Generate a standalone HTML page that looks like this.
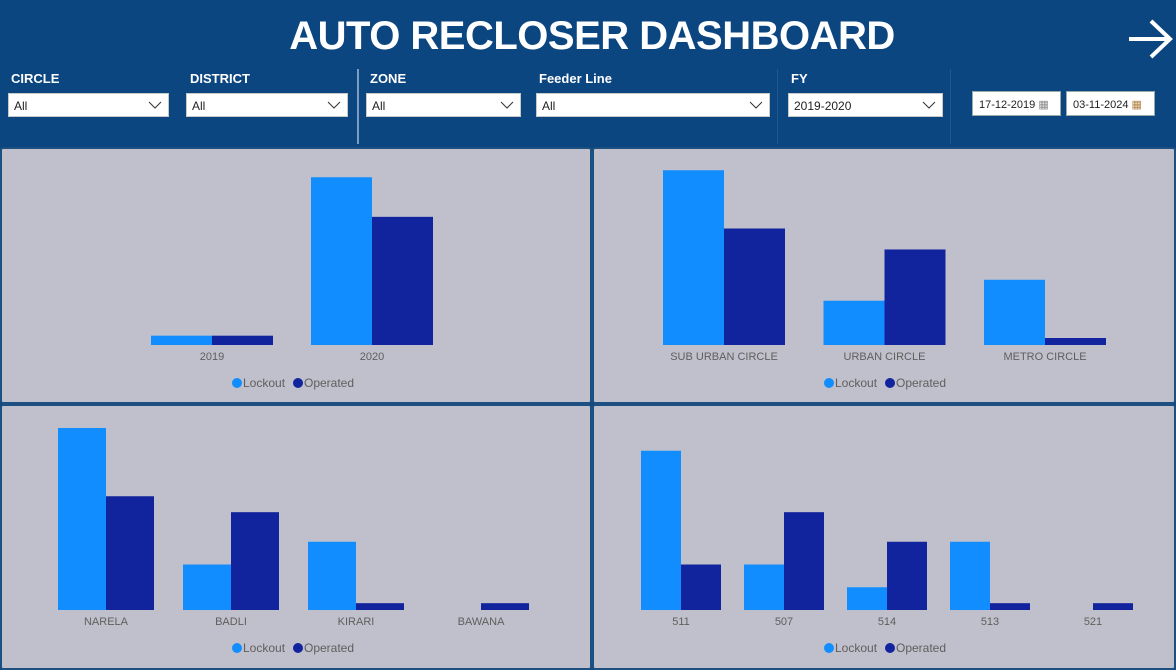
<!DOCTYPE html>
<html><head><meta charset="utf-8"><style>
body{margin:0;width:1176px;height:668px;background:#0b4680;position:relative;overflow:hidden;font-family:"Liberation Sans",sans-serif}
.abs{position:absolute}
.title{left:0;width:1184px;top:12px;text-align:center;color:#fff;font-weight:bold;font-size:40px;line-height:48px;letter-spacing:-0.5px}
.lbl{color:#fff;font-weight:bold;font-size:13px;top:71px}
.dd{background:#fff;border:1px solid #c8c8c8;height:24px;top:93px;box-sizing:border-box;font-size:12px;color:#222;padding:5px 5px}
.dd svg{position:absolute;right:6px;top:7px}
.date{background:#fff;border:1px solid #9aa;height:25px;top:91px;box-sizing:border-box;font-size:11px;color:#222;padding:6px 6px}
.panel{background:#bfc0cc;border:2px solid #1d5080;box-sizing:border-box;border-radius:3px}
</style></head><body>
<div class="abs title">AUTO RECLOSER DASHBOARD</div>
<svg class="abs" style="left:1126px;top:18px" width="48" height="42"><path d="M3 21H44M25 3L44 21L25 39" stroke="#fff" stroke-width="4" fill="none"/></svg>

<div class="abs lbl" style="left:11px">CIRCLE</div>
<div class="abs lbl" style="left:190px">DISTRICT</div>
<div class="abs lbl" style="left:370px">ZONE</div>
<div class="abs lbl" style="left:539px">Feeder Line</div>
<div class="abs lbl" style="left:791px">FY</div>
<div class="abs" style="left:357px;top:69px;width:2px;height:75px;background:#7d9cc0"></div>
<div class="abs" style="left:777px;top:69px;width:1px;height:75px;background:#23578c"></div>
<div class="abs" style="left:950px;top:69px;width:1px;height:75px;background:#23578c"></div>

<div class="abs dd" style="left:8px;width:161px">All<svg width="14" height="9"><path d="M1 1L7 7L13 1" stroke="#333" fill="none"/></svg></div>
<div class="abs dd" style="left:186px;width:162px">All<svg width="14" height="9"><path d="M1 1L7 7L13 1" stroke="#333" fill="none"/></svg></div>
<div class="abs dd" style="left:366px;width:155px">All<svg width="14" height="9"><path d="M1 1L7 7L13 1" stroke="#333" fill="none"/></svg></div>
<div class="abs dd" style="left:536px;width:234px">All<svg width="14" height="9"><path d="M1 1L7 7L13 1" stroke="#333" fill="none"/></svg></div>
<div class="abs dd" style="left:788px;width:155px">2019-2020<svg width="14" height="9"><path d="M1 1L7 7L13 1" stroke="#333" fill="none"/></svg></div>
<div class="abs date" style="left:972px;width:89px">17-12-2019 <span style="color:#888">▦</span></div>
<div class="abs date" style="left:1066px;width:89px">03-11-2024 <span style="color:#b08040">▦</span></div>

<div class="abs panel" style="left:0;top:147px;width:592px;height:257px"></div>
<div class="abs panel" style="left:592px;top:147px;width:584px;height:257px"></div>
<div class="abs panel" style="left:0;top:404px;width:592px;height:266px"></div>
<div class="abs panel" style="left:592px;top:404px;width:584px;height:266px"></div>

<svg id="charts" class="abs" style="left:0;top:0" width="1176" height="668"></svg>

<script>
const yearCats=["2019","2020"];
const yearLockout=[4,72];
const yearOperated=[4,55];
const circleCats=["SUB URBAN CIRCLE","URBAN CIRCLE","METRO CIRCLE"];
const circleLockout=[75,19,28];
const circleOperated=[50,41,3];
const districtCats=["NARELA","BADLI","KIRARI","BAWANA"];
const districtLockout=[80,20,30,0];
const districtOperated=[50,43,3,3];
const feederCats=["511","507","514","513","521"];
const feederLockout=[70,20,10,30,0];
const feederOperated=[20,43,30,3,3];

const NS="http://www.w3.org/2000/svg";
const svg=document.getElementById('charts');
function mk(tag,attrs){const e=document.createElementNS(NS,tag);for(const k in attrs)e.setAttribute(k,attrs[k]);svg.appendChild(e);return e;}
function chart(name,cats,lock,oper,cfg){
  const yScale=v=>cfg.base-v*cfg.k;
  const xScale=i=>cfg.x0+i*cfg.step;
  cats.forEach((c,i)=>{
    const cx=xScale(i);
    const r1=mk('rect',{x:cx-cfg.bw,y:yScale(lock[i]),width:cfg.bw,height:cfg.base-yScale(lock[i]),fill:'#118dff'});
    
    
    const r2=mk('rect',{x:cx,y:yScale(oper[i]),width:cfg.bw,height:cfg.base-yScale(oper[i]),fill:'#12239e'});
    
    
    const t=mk('text',{x:cx,y:cfg.base+15,'text-anchor':'middle','font-size':'11','fill':'#605e5c','font-family':'Liberation Sans, sans-serif'});
    t.textContent=c;
    
    
  });
  const lx=cfg.legX, ly=cfg.base+42;
  const d1=mk('circle',{cx:lx,cy:ly-4,r:5,fill:'#118dff'});
  
  
  const l1=mk('text',{x:lx+6,y:ly,'font-size':'12','fill':'#605e5c','font-family':'Liberation Sans, sans-serif'});
  l1.textContent='Lockout';
  
  
  const d2=mk('circle',{cx:lx+61,cy:ly-4,r:5,fill:'#12239e'});
  
  
  const l2=mk('text',{x:lx+67,y:ly,'font-size':'12','fill':'#605e5c','font-family':'Liberation Sans, sans-serif'});
  l2.textContent='Operated';
  
  
}
chart('year',yearCats,yearLockout,yearOperated,{base:345,k:2.33,x0:212,step:160,bw:61,legX:237});
chart('circle',circleCats,circleLockout,circleOperated,{base:345,k:2.33,x0:724,step:160.5,bw:61,legX:829});
chart('district',districtCats,districtLockout,districtOperated,{base:610,k:2.275,x0:106,step:125,bw:48,legX:237});
chart('feeder',feederCats,feederLockout,feederOperated,{base:610,k:2.275,x0:681,step:103,bw:40,legX:829});
</script>
</body></html>
